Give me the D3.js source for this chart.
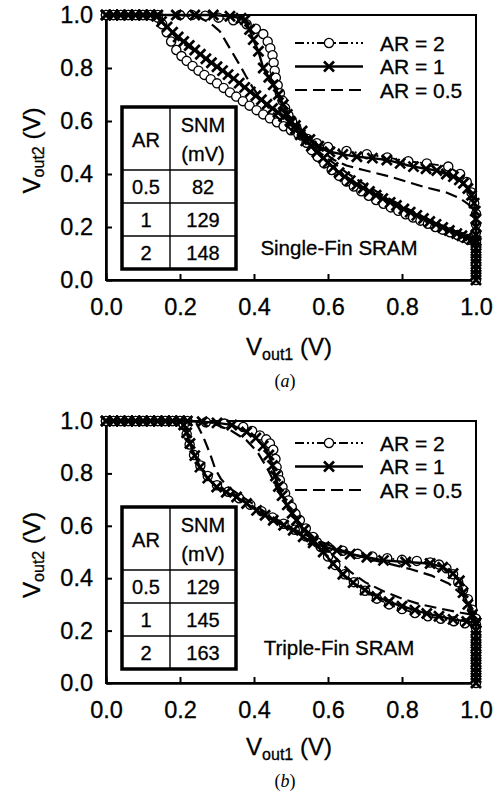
<!DOCTYPE html>
<html>
<head>
<meta charset="utf-8">
<script src="https://cdn.jsdelivr.net/npm/d3@7"></script>
<style>
  body { margin: 0; background: #fff; }
  text { font-family: "Liberation Sans", Arial, sans-serif; fill: #000; stroke: #000; stroke-width: 0.3px; }
</style>
</head>
<body>
<svg id="chart" width="499" height="794"></svg>
<script>
// ---- data ----
const tickVals = [0, 0.2, 0.4, 0.6, 0.8, 1.0];
const legendLabels = ["AR = 2", "AR = 1", "AR = 0.5"];
const tableAR = ["0.5", "1", "2"];
const snmSingle = [82, 129, 148];
const snmTriple = [129, 145, 163];

// single-fin, AR = 2 (Vout2 vs Vout1, and the other inverter)
const singleAR2A = [[0,1],[0.02,1],[0.04,1],[0.06,1],[0.08,1],[0.1,1],[0.12,1],[0.14,1],[0.2,1],[0.232,1],[0.268,0.997],[0.304,0.99],[0.344,0.98],[0.38,0.965],[0.405,0.948],[0.425,0.928],[0.437,0.9],[0.444,0.875],[0.45,0.848],[0.453,0.82],[0.456,0.79],[0.459,0.763],[0.464,0.735],[0.47,0.705],[0.477,0.677],[0.484,0.649],[0.493,0.622],[0.503,0.597],[0.515,0.572],[0.528,0.545],[0.542,0.518],[0.556,0.49],[0.572,0.465],[0.59,0.44],[0.61,0.415],[0.63,0.393],[0.65,0.372],[0.67,0.353],[0.69,0.335],[0.71,0.318],[0.73,0.302],[0.75,0.288],[0.77,0.274],[0.79,0.261],[0.81,0.248],[0.83,0.236],[0.85,0.224],[0.87,0.212],[0.89,0.2],[0.91,0.19],[0.93,0.18],[0.95,0.17],[0.965,0.16],[0.98,0.152],[1,0.143]];
const singleAR2B = [[0,1],[0.02,1],[0.04,1],[0.06,1],[0.08,1],[0.1,1],[0.12,1],[0.14,0.99],[0.152,0.965],[0.164,0.935],[0.176,0.9],[0.19,0.868],[0.204,0.845],[0.218,0.827],[0.234,0.808],[0.25,0.79],[0.266,0.774],[0.283,0.758],[0.3,0.742],[0.318,0.725],[0.335,0.708],[0.352,0.692],[0.37,0.675],[0.388,0.658],[0.407,0.641],[0.425,0.625],[0.443,0.61],[0.462,0.595],[0.48,0.58],[0.5,0.565],[0.52,0.55],[0.545,0.532],[0.57,0.516],[0.6,0.502],[0.65,0.487],[0.705,0.475],[0.76,0.462],[0.817,0.448],[0.867,0.44],[0.925,0.428],[0.957,0.4],[0.975,0.37],[0.988,0.33],[0.995,0.29],[1,0.25],[1,0.21],[1,0.18],[1,0.15],[1,0.12],[1,0.09],[1,0.06],[1,0.03],[1,0]];

// single-fin, AR = 1
const singleAR1A = [[0,1],[0.02,1],[0.04,1],[0.06,1],[0.08,1],[0.1,1],[0.12,1],[0.14,1],[0.19,1],[0.24,1],[0.29,1],[0.335,0.995],[0.365,0.988],[0.376,0.982],[0.388,0.945],[0.398,0.907],[0.412,0.863],[0.425,0.8],[0.44,0.765],[0.452,0.737],[0.466,0.7],[0.479,0.662],[0.49,0.625],[0.5,0.595],[0.512,0.57],[0.525,0.548],[0.54,0.525],[0.555,0.505],[0.57,0.482],[0.587,0.46],[0.6,0.443],[0.614,0.425],[0.63,0.405],[0.645,0.39],[0.66,0.375],[0.678,0.36],[0.695,0.347],[0.712,0.334],[0.73,0.32],[0.748,0.307],[0.768,0.293],[0.785,0.281],[0.805,0.268],[0.822,0.256],[0.84,0.244],[0.858,0.232],[0.875,0.221],[0.892,0.21],[0.91,0.198],[0.928,0.187],[0.948,0.175],[0.962,0.167],[0.975,0.16],[0.988,0.153],[1,0.147]];
const singleAR1B = [[0,1],[0.02,1],[0.04,1],[0.06,1],[0.08,1],[0.1,1],[0.12,1],[0.137,0.995],[0.15,0.975],[0.165,0.955],[0.18,0.935],[0.195,0.917],[0.21,0.9],[0.225,0.885],[0.24,0.868],[0.255,0.852],[0.27,0.835],[0.285,0.82],[0.3,0.805],[0.315,0.79],[0.33,0.775],[0.345,0.76],[0.36,0.743],[0.375,0.727],[0.39,0.71],[0.405,0.695],[0.42,0.68],[0.435,0.663],[0.45,0.647],[0.465,0.632],[0.48,0.617],[0.497,0.6],[0.512,0.583],[0.53,0.562],[0.551,0.53],[0.575,0.505],[0.605,0.484],[0.64,0.474],[0.678,0.465],[0.72,0.46],[0.759,0.453],[0.795,0.44],[0.831,0.428],[0.865,0.42],[0.894,0.413],[0.92,0.4],[0.939,0.39],[0.955,0.378],[0.966,0.365],[0.978,0.345],[0.988,0.32],[0.995,0.29],[0.998,0.26],[1,0.23],[1,0.2],[1,0.17],[1,0.14],[1,0.12],[1,0.1],[1,0.08],[1,0.06],[1,0.04],[1,0.02],[1,0]];

// single-fin, AR = 0.5
const singleAR05A = [[0,1],[0.2,1],[0.25,0.993],[0.272,0.976],[0.29,0.96],[0.308,0.938],[0.328,0.89],[0.345,0.85],[0.362,0.81],[0.378,0.77],[0.395,0.73],[0.41,0.7],[0.43,0.665],[0.45,0.633],[0.47,0.605],[0.49,0.58],[0.51,0.555],[0.53,0.532],[0.56,0.5],[0.6,0.457],[0.65,0.405],[0.7,0.36],[0.75,0.318],[0.8,0.28],[0.85,0.243],[0.9,0.21],[0.95,0.18],[1,0.15]];
const singleAR05B = [[0,1],[0.12,1],[0.14,0.99],[0.2,0.9],[0.25,0.855],[0.3,0.805],[0.35,0.755],[0.4,0.7],[0.45,0.648],[0.49,0.605],[0.52,0.565],[0.55,0.525],[0.58,0.49],[0.614,0.455],[0.65,0.432],[0.696,0.415],[0.768,0.39],[0.858,0.352],[0.92,0.33],[0.957,0.308],[0.98,0.285],[0.995,0.25],[1,0.2],[1,0]];

// triple-fin, AR = 2
const tripleAR2A = [[0,1],[0.02,1],[0.04,1],[0.06,1],[0.08,1],[0.1,1],[0.12,1],[0.14,1],[0.16,1],[0.18,1],[0.2,1],[0.22,1],[0.27,0.995],[0.32,0.99],[0.371,0.977],[0.395,0.962],[0.416,0.945],[0.433,0.93],[0.443,0.914],[0.452,0.89],[0.458,0.855],[0.461,0.824],[0.465,0.798],[0.47,0.774],[0.477,0.748],[0.484,0.723],[0.493,0.697],[0.502,0.672],[0.512,0.646],[0.524,0.621],[0.54,0.59],[0.56,0.557],[0.58,0.52],[0.6,0.483],[0.62,0.45],[0.645,0.415],[0.67,0.385],[0.7,0.352],[0.732,0.322],[0.765,0.3],[0.8,0.282],[0.835,0.267],[0.87,0.255],[0.905,0.245],[0.94,0.236],[0.97,0.228],[1,0.222]];
const tripleAR2B = [[0,1],[0.02,1],[0.04,1],[0.06,1],[0.08,1],[0.1,1],[0.12,1],[0.14,1],[0.16,1],[0.18,1],[0.2,1],[0.21,0.985],[0.218,0.95],[0.226,0.91],[0.238,0.87],[0.255,0.83],[0.275,0.79],[0.3,0.755],[0.33,0.73],[0.36,0.705],[0.39,0.68],[0.42,0.656],[0.45,0.632],[0.48,0.608],[0.51,0.585],[0.54,0.56],[0.57,0.537],[0.6,0.518],[0.64,0.505],[0.68,0.493],[0.72,0.483],[0.76,0.476],[0.8,0.47],[0.84,0.466],[0.876,0.46],[0.9,0.452],[0.92,0.438],[0.938,0.415],[0.952,0.385],[0.965,0.356],[0.978,0.32],[0.99,0.28],[1,0.245],[1,0.21],[1,0.18],[1,0.15],[1,0.12],[1,0.09],[1,0.06],[1,0.03],[1,0]];

// triple-fin, AR = 1
const tripleAR1A = [[0,1],[0.02,1],[0.04,1],[0.06,1],[0.08,1],[0.1,1],[0.12,1],[0.14,1],[0.16,1],[0.18,1],[0.2,1],[0.22,1],[0.26,0.997],[0.3,0.993],[0.34,0.985],[0.38,0.958],[0.405,0.935],[0.425,0.905],[0.44,0.87],[0.45,0.83],[0.458,0.79],[0.466,0.75],[0.476,0.715],[0.49,0.68],[0.503,0.648],[0.515,0.621],[0.535,0.585],[0.56,0.545],[0.587,0.5],[0.614,0.455],[0.64,0.415],[0.668,0.383],[0.7,0.355],[0.732,0.33],[0.765,0.31],[0.8,0.293],[0.835,0.278],[0.867,0.265],[0.9,0.255],[0.938,0.243],[0.975,0.235],[1,0.23]];
const tripleAR1B = [[0,1],[0.02,1],[0.04,1],[0.06,1],[0.08,1],[0.1,1],[0.12,1],[0.14,1],[0.16,1],[0.18,1],[0.2,1],[0.21,0.985],[0.218,0.955],[0.227,0.914],[0.24,0.868],[0.254,0.824],[0.275,0.782],[0.299,0.748],[0.325,0.728],[0.353,0.71],[0.38,0.685],[0.407,0.659],[0.43,0.64],[0.452,0.621],[0.48,0.602],[0.506,0.583],[0.533,0.558],[0.56,0.535],[0.59,0.52],[0.624,0.506],[0.66,0.492],[0.705,0.48],[0.75,0.468],[0.81,0.462],[0.876,0.456],[0.91,0.442],[0.938,0.418],[0.955,0.39],[0.965,0.345],[0.978,0.3],[0.99,0.262],[1,0.23],[1,0.2],[1,0.18],[1,0.16],[1,0.14],[1,0.12],[1,0.1],[1,0.08],[1,0.06],[1,0.04],[1,0.02],[1,0]];

// triple-fin, AR = 0.5
const tripleAR05A = [[0,1],[0.22,1],[0.26,0.995],[0.3,0.985],[0.34,0.962],[0.38,0.926],[0.41,0.88],[0.434,0.824],[0.452,0.774],[0.47,0.72],[0.49,0.672],[0.51,0.632],[0.54,0.585],[0.57,0.545],[0.6,0.505],[0.63,0.465],[0.66,0.425],[0.7,0.385],[0.75,0.35],[0.8,0.322],[0.85,0.3],[0.9,0.285],[0.96,0.268],[1,0.258]];
const tripleAR05B = [[0,1],[0.22,1],[0.245,0.99],[0.263,0.939],[0.281,0.876],[0.295,0.818],[0.31,0.78],[0.33,0.748],[0.35,0.728],[0.38,0.7],[0.42,0.662],[0.46,0.625],[0.5,0.592],[0.54,0.565],[0.58,0.54],[0.63,0.51],[0.67,0.49],[0.72,0.47],[0.774,0.452],[0.824,0.434],[0.88,0.41],[0.926,0.38],[0.96,0.34],[0.985,0.3],[0.995,0.26],[1,0.22],[1,0]];

// ---- styles per AR ----
const styles = [
  { dash: "9,3,2,3,2,3", width: 1.8, marker: "circle" },
  { dash: null, width: 2.4, marker: "cross" },
  { dash: "12,6", width: 2.2, marker: null }
];

const panels = [
  { top: 15, bottom: 280, dy: 0, label: "Single-Fin SRAM", tag: "a", snm: snmSingle,
    curves: [[singleAR2A, singleAR2B], [singleAR1A, singleAR1B], [singleAR05A, singleAR05B]] },
  { top: 421, bottom: 683, dy: 400, label: "Triple-Fin SRAM", tag: "b", snm: snmTriple,
    curves: [[tripleAR2A, tripleAR2B], [tripleAR1A, tripleAR1B], [tripleAR05A, tripleAR05B]] }
];

const svg = d3.select("#chart");
const fmt = d3.format(".1f");

function drawMarker(sel, type) {
  if (type === "circle") {
    sel.append("circle").attr("r", 4.6).attr("fill", "#fff")
      .attr("stroke", "#000").attr("stroke-width", 1.3);
  } else if (type === "cross") {
    sel.append("path").attr("d", "M-5,-5L5,5M-5,5L5,-5")
      .attr("stroke", "#000").attr("stroke-width", 2.7).attr("fill", "none");
  }
}

function drawPanel(p) {
  const x = d3.scaleLinear().domain([0, 1]).range([106, 476]);
  const y = d3.scaleLinear().domain([0, 1]).range([p.bottom, p.top]);
  const g = svg.append("g");

  // frame
  g.append("rect")
    .attr("x", x(0)).attr("y", y(1))
    .attr("width", x(1) - x(0)).attr("height", y(0) - y(1))
    .attr("fill", "none").attr("stroke", "#000").attr("stroke-width", 2);

  const xAxis = g.append("g").attr("transform", `translate(0,${y(0)})`)
    .call(d3.axisBottom(x).tickValues(tickVals).tickSizeInner(-6).tickSizeOuter(0)
      .tickPadding(18).tickFormat(fmt));
  const yAxis = g.append("g").attr("transform", `translate(${x(0)},0)`)
    .call(d3.axisLeft(y).tickValues(tickVals).tickSizeInner(-6).tickSizeOuter(0)
      .tickPadding(13).tickFormat(fmt));
  [xAxis, yAxis].forEach(a => {
    a.select(".domain").attr("stroke-width", 2.6);
    a.selectAll(".tick line").attr("stroke-width", 2);
    a.selectAll("text").style("font-size", "23.5px").attr("font-family", null);
  });

  // curves
  const line = d3.line().x(d => x(d[0])).y(d => y(d[1]));
  p.curves.forEach((pair, i) => {
    const st = styles[i];
    const sg = g.append("g");
    pair.forEach(data => {
      sg.append("path").datum(data)
        .attr("d", line).attr("fill", "none").attr("stroke", "#000")
        .attr("stroke-width", st.width)
        .attr("stroke-dasharray", st.dash);
    });
    if (st.marker) {
      pair.forEach(data => {
        sg.selectAll(null).data(data).enter().append("g")
          .attr("transform", d => `translate(${x(d[0])},${y(d[1])})`)
          .call(drawMarker, st.marker);
      });
    }
  });

  // legend
  const lg = g.append("g");
  legendLabels.forEach((lab, i) => {
    const ly = p.dy + 43 + i * 23.5;
    const st = styles[i];
    lg.append("line").attr("x1", 295).attr("x2", 363).attr("y1", ly).attr("y2", ly)
      .attr("stroke", "#000").attr("stroke-width", st.width)
      .attr("stroke-dasharray", st.dash);
    if (st.marker) {
      lg.append("g").attr("transform", `translate(329,${ly})`).call(drawMarker, st.marker);
    }
    lg.append("text").attr("x", 380).attr("y", ly + 7.5)
      .style("font-size", "21px").text(lab);
  });

  // SNM table
  const tx = [122, 170, 236];
  const ty = [107, 170, 203, 236, 269].map(v => v + p.dy);
  const tg = g.append("g");
  tg.append("rect").attr("x", tx[0]).attr("y", ty[0])
    .attr("width", tx[2] - tx[0]).attr("height", ty[4] - ty[0])
    .attr("fill", "#fff").attr("stroke", "none");
  tg.append("line").attr("x1", tx[1]).attr("x2", tx[1]).attr("y1", ty[0]).attr("y2", ty[4])
    .attr("stroke", "#000").attr("stroke-width", 1.4);
  [ty[1], ty[2], ty[3]].forEach(v => {
    tg.append("line").attr("x1", tx[0]).attr("x2", tx[2]).attr("y1", v).attr("y2", v)
      .attr("stroke", "#000").attr("stroke-width", 1.4);
  });
  tg.append("rect").attr("x", tx[0]).attr("y", ty[0])
    .attr("width", tx[2] - tx[0]).attr("height", ty[4] - ty[0])
    .attr("fill", "none").attr("stroke", "#000").attr("stroke-width", 3.5);
  const c1 = (tx[0] + tx[1]) / 2, c2 = (tx[1] + tx[2]) / 2;
  const ts = "20px";
  tg.append("text").attr("x", c1).attr("y", ty[0] + 40).attr("text-anchor", "middle")
    .style("font-size", ts).text("AR");
  tg.append("text").attr("x", c2).attr("y", ty[0] + 25).attr("text-anchor", "middle")
    .style("font-size", ts).text("SNM");
  tg.append("text").attr("x", c2).attr("y", ty[0] + 54).attr("text-anchor", "middle")
    .style("font-size", ts).text("(mV)");
  tableAR.forEach((ar, i) => {
    const by = (ty[i + 1] + ty[i + 2]) / 2 + 7;
    tg.append("text").attr("x", c1).attr("y", by).attr("text-anchor", "middle")
      .style("font-size", ts).text(ar);
    tg.append("text").attr("x", c2).attr("y", by).attr("text-anchor", "middle")
      .style("font-size", ts).text(p.snm[i]);
  });

  // panel label
  g.append("text").attr("x", 339).attr("y", p.dy + 255).attr("text-anchor", "middle")
    .style("font-size", "20.5px").text(p.label);

  // axis titles
  const xt = g.append("text").attr("x", 289).attr("y", p.dy + 355)
    .attr("text-anchor", "middle").style("font-size", "24px");
  xt.append("tspan").text("V");
  xt.append("tspan").attr("dy", 5).style("font-size", "16px").text("out1");
  xt.append("tspan").attr("dy", -5).text(" (V)");

  const yc = (p.top + p.bottom) / 2 + 3;
  const yt = g.append("text").attr("transform", `translate(40,${yc}) rotate(-90)`)
    .attr("text-anchor", "middle").style("font-size", "24px");
  yt.append("tspan").text("V");
  yt.append("tspan").attr("dy", 4).style("font-size", "16px").text("out2");
  yt.append("tspan").attr("dy", -4).text(" (V)");

  const tag = g.append("text").attr("x", 285).attr("y", p.dy + 387)
    .attr("text-anchor", "middle")
    .style("font-family", "'Liberation Serif', 'Times New Roman', serif")
    .style("font-size", "18px").style("stroke-width", "0px");
  tag.append("tspan").text("(");
  tag.append("tspan").style("font-style", "italic").text(p.tag);
  tag.append("tspan").text(")");
}

panels.forEach(drawPanel);
</script>
</body>
</html>
